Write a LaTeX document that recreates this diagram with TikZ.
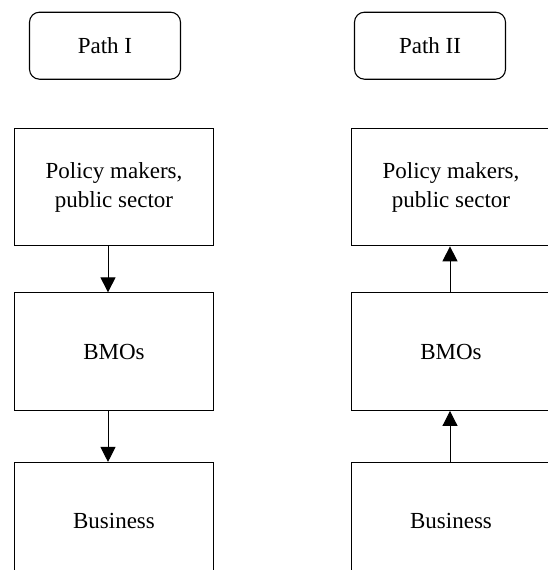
\documentclass[tikz,border=0pt]{standalone}
\usepackage{fontspec}
\setmainfont{Liberation Serif}
\usepackage{tikz}
\usetikzlibrary{arrows.meta,positioning}
\tikzset{
  pathbox/.style={rectangle, rounded corners=10pt, draw=black, line width=1.1pt, align=center, minimum width=151pt, minimum height=67pt, inner sep=0pt},
  box/.style={rectangle, draw=black, line width=1.1pt, align=center, minimum width=199pt, minimum height=117.5pt, inner sep=0pt},
  arrow/.style={-{Triangle[width=15pt,length=15pt]}, line width=1pt, draw=black}
}

\begin{document}
\begin{tikzpicture}[x=1pt, y=1pt, font=\fontsize{23}{29}\selectfont]
  \useasboundingbox (0,0) rectangle (548,-570);
  \clip (0,0) rectangle (548,-570);

  % path I: top-down
  \node[pathbox] (path1) at (105,-45.7) {Path I};
  \node[box, below=48pt of path1, xshift=9pt] (pol1) {Policy makers,\\public sector};
  \node[box, below=46pt of pol1] (bmo1) {BMOs};
  \node[box, below=51pt of bmo1] (bus1) {Business};

  % path II: bottom-up
  \node[pathbox] (path2) at (430,-45.7) {Path II};
  \node[box, below=48pt of path2, xshift=21pt] (pol2) {Policy makers,\\public sector};
  \node[box, below=46pt of pol2] (bmo2) {BMOs};
  \node[box, below=51pt of bmo2] (bus2) {Business};

  \draw[arrow] ([xshift=-6pt]pol1.south) -- ([xshift=-6pt]bmo1.north);
  \draw[arrow] ([xshift=-6pt]bmo1.south) -- ([xshift=-6pt]bus1.north);
  \draw[arrow] ([xshift=-1pt]bmo2.north) -- ([xshift=-1pt]pol2.south);
  \draw[arrow] ([xshift=-1pt]bus2.north) -- ([xshift=-1pt]bmo2.south);
\end{tikzpicture}
\end{document}
